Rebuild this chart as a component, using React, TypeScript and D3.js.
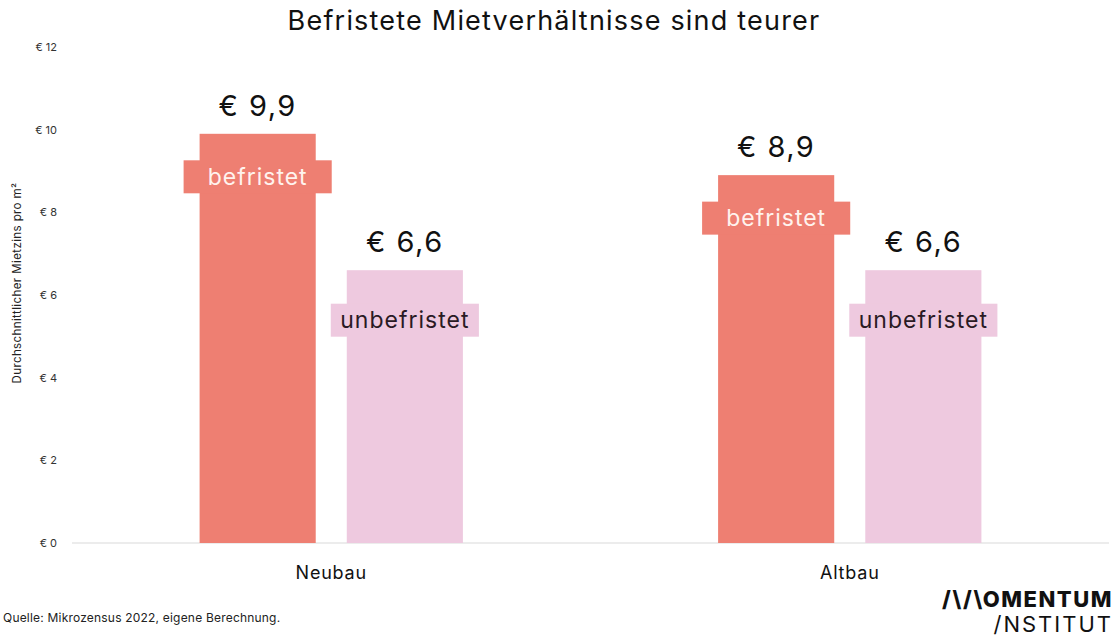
import React, { useEffect } from "react";
import * as d3 from "d3";

const categories = ["Neubau", "Altbau"];
const seriesNames = ["befristet", "unbefristet"];
const befristetValues = [9.9, 8.9];
const unbefristetValues = [6.6, 6.6];
const yTicks = [0, 2, 4, 6, 8, 10, 12];
const title = "Befristete Mietverhältnisse sind teurer";
const yAxisTitle = "Durchschnittlicher Mietzins pro m²";
const sourceText = "Quelle: Mikrozensus 2022, eigene Berechnung.";

const W = 1120;
const H = 636;
const FONT = "Inter, 'Noto Sans', sans-serif";

const styles: Record<string, { fill: string; text: string; labelOffset: number }> = {
  befristet: { fill: "#EE7F72", text: "#FFF3EE", labelOffset: 43 },
  unbefristet: { fill: "#EEC9DF", text: "#2A1A24", labelOffset: 50 },
};

const fmt = (v: number) => "€ " + d3.format(".1f")(v).replace(".", ",");

export default function App() {
  useEffect(() => {
    document.body.style.margin = "0";
  }, []);

  const x0 = d3.scaleBand<string>().domain(categories).range([72, 1109]).padding(0);
  const x1 = d3
    .scaleBand<string>()
    .domain(seriesNames)
    .range([0, x0.bandwidth()])
    .paddingInner(0.211)
    .paddingOuter(0.867);
  const y = d3.scaleLinear().domain([0, 12]).range([543, 47]);

  const valuesBySeries: Record<string, number[]> = {
    befristet: befristetValues,
    unbefristet: unbefristetValues,
  };

  const bars = categories.flatMap((c, i) =>
    seriesNames.map((s) => ({ cat: c, series: s, value: valuesBySeries[s][i] }))
  );

  return (
    <svg width={W} height={H} style={{ display: "block", background: "#fff" }} fontFamily={FONT}>
      <text x={554} y={30} textAnchor="middle" fontSize={27} fill="#111" letterSpacing={1.2}>
        {title}
      </text>

      {yTicks.map((t) => (
        <text key={t} x={57} y={y(t) + 4} textAnchor="end" fontSize={11} fill="#333">
          {"€ " + t}
        </text>
      ))}
      <text
        transform={`translate(21, ${283}) rotate(-90)`}
        textAnchor="middle"
        fontSize={11.5}
        fill="#222"
        letterSpacing={0.4}
      >
        {yAxisTitle}
      </text>

      <line x1={72} x2={1109} y1={y(0)} y2={y(0)} stroke="#E6E6E6" strokeWidth={1.5} />

      {bars.map((b) => {
        const bx = (x0(b.cat) as number) + (x1(b.series) as number);
        const bw = x1.bandwidth();
        const top = y(b.value);
        const st = styles[b.series];
        const cy = top + st.labelOffset;
        return (
          <g key={b.cat + b.series}>
            <rect x={bx} y={top} width={bw} height={y(0) - top} fill={st.fill} />
            <rect x={bx - 16} y={cy - 16.5} width={bw + 32} height={33} fill={st.fill} />
            <text x={bx + bw / 2} y={cy + 8} textAnchor="middle" fontSize={23} fill={st.text} letterSpacing={1}>
              {b.series}
            </text>
            <text x={bx + bw / 2} y={top - 18} textAnchor="middle" fontSize={29} fill="#111" letterSpacing={1.5}>
              {fmt(b.value)}
            </text>
          </g>
        );
      })}

      {categories.map((c) => (
        <text
          key={c}
          x={(x0(c) as number) + x0.bandwidth() / 2}
          y={579}
          textAnchor="middle"
          fontSize={18}
          fill="#111"
          letterSpacing={0.8}
        >
          {c}
        </text>
      ))}

      <text x={3} y={622} fontSize={12} fill="#222" letterSpacing={0.2}>
        {sourceText}
      </text>

      <text x={1113} y={607} textAnchor="end" fontSize={22} fontWeight={800} fill="#111" letterSpacing={1.5}>
        {"/\\/\\OMENTUM"}
      </text>
      <text x={1113} y={632} textAnchor="end" fontSize={22} fill="#111" letterSpacing={2}>
        {"/NSTITUT"}
      </text>
    </svg>
  );
}
